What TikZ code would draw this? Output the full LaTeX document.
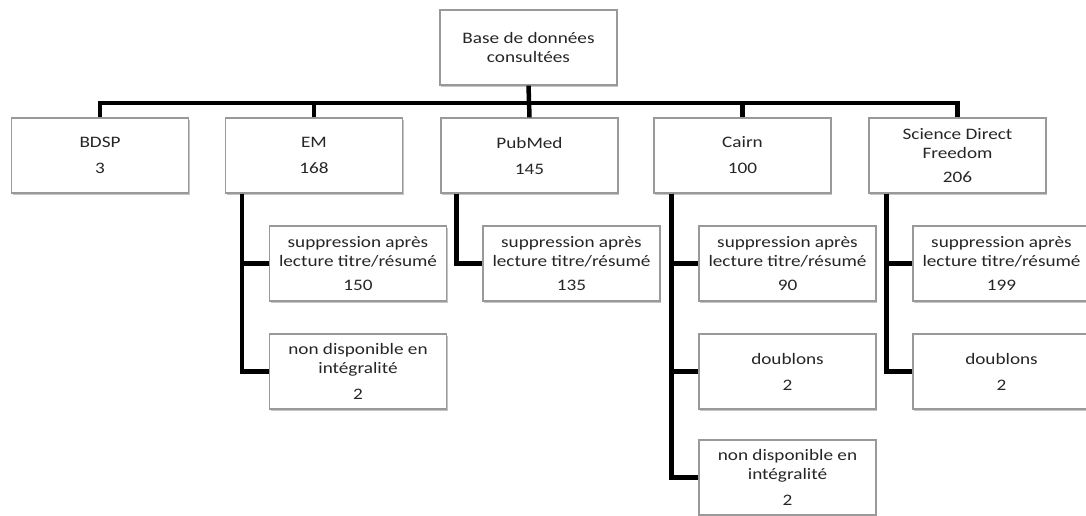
\documentclass[tikz,border=0pt]{standalone}
\usepackage{fontspec}
\setmainfont{Carlito}[FakeStretch=1.2]
\usetikzlibrary{shadows}
\tikzset{
  box/.style={draw=black!40, line width=1.2pt, fill=white, minimum width=177pt, minimum height=75pt,
    inner sep=0pt, align=center, text=black!85,
    font=\fontsize{16}{19}\selectfont,
    drop shadow={shadow xshift=1pt, shadow yshift=-2pt, fill=black!45, opacity=0.5}},
  conn/.style={line width=4.5pt, black, line join=miter, line cap=rect}
}
\begin{document}
\begin{tikzpicture}[x=1pt,y=1pt]
\useasboundingbox (0,0) rectangle (1086,-516);
\fill[white] (0,0) rectangle (1086,-516);
% top
\node[box] (top) at (528.5,-47.5) {Base de données\\consultées};
% second row
\node[box] (bdsp) at (100,-155.5) {BDSP\\[7pt]3};
\node[box] (em) at (314,-155.5) {EM\\[7pt]168};
\node[box] (pub) at (529.5,-155.5) {PubMed\\[7pt]145};
\node[box] (cairn) at (742.5,-155.5) {Cairn\\[7pt]100};
\node[box] (sdf) at (957.5,-155.5) {Science Direct\\Freedom\\[5pt]206};
% children
\node[box] (em1) at (358,-263.5) {suppression après\\lecture titre/résumé\\[5pt]150};
\node[box] (em2) at (358,-371.5) {non disponible en\\intégralité\\[7pt]2};
\node[box] (pub1) at (571.5,-263.5) {suppression après\\lecture titre/résumé\\[5pt]135};
\node[box] (ca1) at (787.5,-263.5) {suppression après\\lecture titre/résumé\\[5pt]90};
\node[box] (ca2) at (787.5,-371.5) {doublons\\[7pt]2};
\node[box] (ca3) at (787.5,-477.5) {non disponible en\\intégralité\\[7pt]2};
\node[box] (sd1) at (1001.5,-263.5) {suppression après\\lecture titre/résumé\\[5pt]199};
\node[box] (sd2) at (1001.5,-371.5) {doublons\\[7pt]2};
% connectors level 1
\coordinate (hl) at (100,-103);
\draw[conn, line cap=butt] (top.south) -- (pub.north);
\draw[conn, line cap=butt] (bdsp.north) |- (hl) -| (sdf.north);
\draw[conn, line cap=butt] (em.north) -- (em.north |- hl);
\draw[conn, line cap=butt] (cairn.north) -- (cairn.north |- hl);
% connectors level 2
\draw[conn, line cap=butt] ([xshift=17pt]em.south west) |- (em1.west);
\draw[conn, line cap=butt] ([xshift=17pt]em.south west) |- (em2.west);
\draw[conn, line cap=butt] ([xshift=16pt]pub.south west) |- (pub1.west);
\draw[conn, line cap=butt] ([xshift=18pt]cairn.south west) |- (ca1.west);
\draw[conn, line cap=butt] ([xshift=18pt]cairn.south west) |- (ca2.west);
\draw[conn, line cap=butt] ([xshift=18pt]cairn.south west) |- (ca3.west);
\draw[conn, line cap=butt] ([xshift=18pt]sdf.south west) |- (sd1.west);
\draw[conn, line cap=butt] ([xshift=18pt]sdf.south west) |- (sd2.west);
\end{tikzpicture}
\end{document}
